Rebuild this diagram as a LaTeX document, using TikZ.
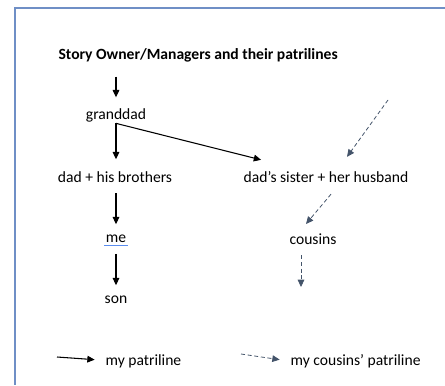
\documentclass[tikz,border=0pt]{standalone}
\usepackage{fontspec}
\setmainfont{Carlito}
\usetikzlibrary{arrows.meta, positioning}

\definecolor{frameblue}{HTML}{6F8FC6}
\definecolor{dashblue}{HTML}{44546A}
\definecolor{spellblue}{HTML}{5B8DEF}

\begin{document}
\begin{tikzpicture}[
    x=0.75pt, y=-0.75pt,
    >={Triangle[length=5.5pt, width=5pt]},
    person/.style={font=\fontsize{11.7}{14}\selectfont, inner sep=1pt},
    myline/.style={->, thick, black},
    cousinline/.style={->, semithick, dashed, dash pattern=on 3pt off 2pt, dashblue}
]
    \useasboundingbox (0,0) rectangle (445,385);
    \draw[frameblue, thick] (445,8) -- (15,8) -- (15,385);

    \node[person, anchor=west, font=\fontsize{11.7}{14}\selectfont\bfseries] (Title) at (57,55) {Story Owner/Managers and their patrilines};
    \node[person] (Granddad) at (116,115) {granddad};
    \node[person] (Dad)      at (115,177) {dad + his brothers};
    \node[person] (Sister)   at (326,177) {dad’s sister + her husband};
    \node[person] (Me)       at (116,239) {me};
    \node[person] (Son)      at (116,300) {son};
    \node[person] (Cousins)  at (313,239) {cousins};

    \coordinate (CousinTop) at (388,100);
    \coordinate (CousinEnd) at (301,287);

    % legend
    \coordinate (MineStart)  at (57,357);
    \coordinate (TheirStart) at (241,354);
    \node[person, anchor=west] (Mine)  at (104,361) {my patriline};
    \node[person, anchor=west] (Their) at (289,361) {my cousins’ patriline};

    \draw[spellblue, line width=1pt] ([yshift=-2.2pt]Me.base west) -- ([yshift=-2.2pt]Me.base east);

    % my patriline
    \draw[myline] ([yshift=-10pt]Granddad.north |- Title.south) -- ([yshift=7pt]Granddad.north);
    \draw[myline] (Granddad.south) -- ([yshift=8pt]Dad.north -| Granddad.south);
    \draw[myline] (Granddad.south) -- ([shift={(19,-10)}]Sister.north west);
    \draw[myline] ([yshift=-7pt]Dad.south -| Me.north) -- ([yshift=7pt]Me.north);
    \draw[myline] ([yshift=-7pt]Me.south) -- ([yshift=7pt]Son.north);

    % cousins' patriline
    \draw[cousinline] (CousinTop) -- ([shift={(21,-13)}]Sister.north);
    \draw[cousinline] ([shift={(5,10)}]Sister.south) -- ([shift={(-7,-8)}]Cousins.north);
    \draw[cousinline] ([yshift=-7pt]Cousins.south -| CousinEnd) -- (CousinEnd);

    % legend arrows
    \draw[myline] (MineStart) -- ([xshift=-7pt, yshift=1pt]Mine.west);
    \draw[cousinline] (TheirStart) -- ([xshift=-7pt, yshift=1pt]Their.west);
\end{tikzpicture}
\end{document}
